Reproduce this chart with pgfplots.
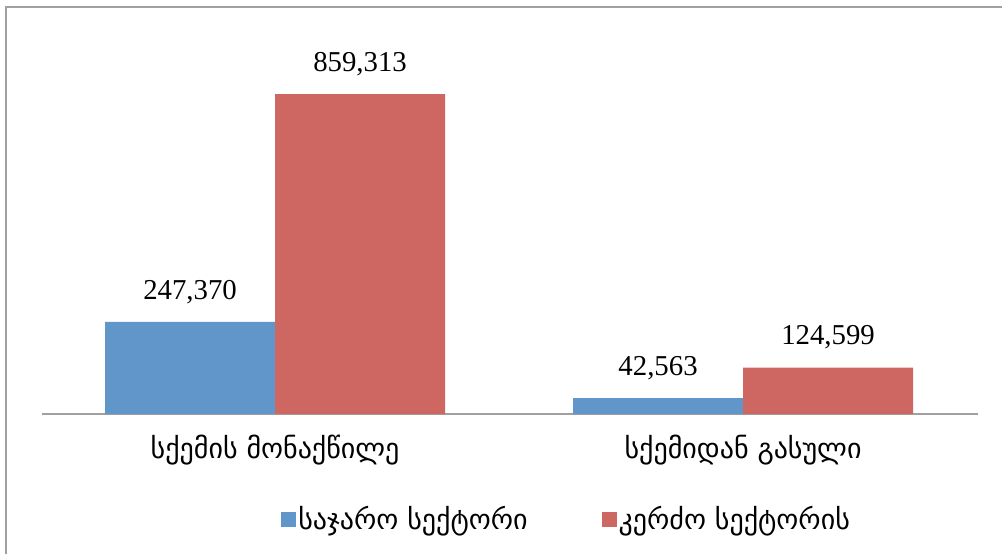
\documentclass[border=0pt]{standalone}
\usepackage{pgfplots}
\pgfplotsset{compat=1.18}
\usepackage{fontspec}
\setmainfont{Liberation Serif}
\newfontfamily\geo{DejaVu Sans}
\definecolor{cblue}{HTML}{6196CA}
\definecolor{cred}{HTML}{CE6661}
\definecolor{cgray}{HTML}{A0A0A0}
\pgfplotstableread{
x y lab
0 247370 247,370
1 42563 42,563
}\pubtab
\pgfplotstableread{
x y lab
0 859313 859,313
1 124599 124,599
}\privtab
\begin{document}
\begin{tikzpicture}[x=1pt,y=1pt]
\useasboundingbox (0,0) rectangle (501,277);
\fill[white] (0,0) rectangle (501,277);
\draw[cgray, line width=1pt] (2.75,0) -- (2.75,273.5) -- (501,273.5);
\begin{axis}[
  at={(21pt,70pt)}, anchor=south west,
  scale only axis, width=468pt, height=160pt,
  xmin=-0.498, xmax=1.502, ymin=0, ymax=859313,
  ybar=0pt, bar width=85pt,
  axis x line*=bottom, hide y axis,
  x axis line style={cgray, line width=1pt, -},
  xtick={0,1}, xticklabels={{სქემის მონაქწილე},{სქემიდან გასული}},
  major tick length=0pt,
  xticklabel style={font=\geo\fontsize{14}{16}\selectfont, yshift=-7pt},
  clip=false,
  nodes near coords, point meta=explicit symbolic,
  nodes near coords style={font=\fontsize{14.4}{16}\selectfont, anchor=south, inner sep=0pt, yshift=9pt, text=black},
  legend columns=2,
  legend style={draw=none, fill=none, at={(0.2553,-0.33)}, anchor=west, inner sep=0pt,
    font=\geo\fontsize{14}{16}\selectfont,
    nodes={inner sep=1pt},
    /tikz/every even column/.append style={column sep=36pt}},
  legend image code/.code={\fill[#1] (0pt,-3.75pt) rectangle (7.5pt,3.75pt);},
]
\addplot[fill=cblue, draw=none] table[x=x, y=y, meta=lab] {\pubtab};
\addlegendentry{საჯარო სექტორი}
\addplot[fill=cred, draw=none] table[x=x, y=y, meta=lab] {\privtab};
\addlegendentry{კერძო სექტორის}
\end{axis}
\end{tikzpicture}
\end{document}
